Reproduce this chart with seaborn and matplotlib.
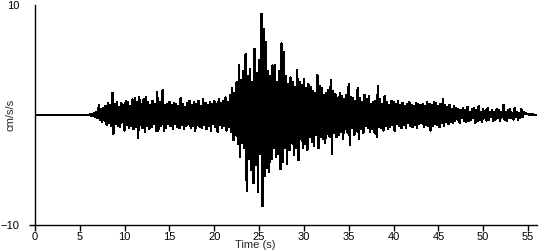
import numpy as np
import pandas as pd
import matplotlib
matplotlib.use("Agg")
import matplotlib.pyplot as plt
import seaborn as sns

# Sampling of the record (seconds)
t_start = 6.0
dt = 0.125

# Acceleration (cm/s/s), 8 samples per second, from 6 s to 56 s
accel = [
    0.0, 0.05, -0.05, 0.1, -0.1, 0.2, -0.15, 0.3,
    -0.3, 0.9, -0.4, 0.5, -0.6, 0.6, -0.5, 0.8,
    -0.9, 1.1, -0.7, 0.9, -1.0, 2.0, -1.7, 1.0,
    -0.8, 1.2, -1.0, 0.7, -1.1, 1.1, -0.6, 0.9,
    -1.4, 1.3, -0.9, 1.2, -1.2, 0.8, -1.0, 1.4,
    -1.3, 1.5, -1.1, 1.2, -2.1, 1.6, -0.9, 1.0,
    -1.2, 1.4, -1.5, 1.6, -1.0, 1.2, -1.3, 0.9,
    -1.1, 1.3, -0.8, 1.0, -1.4, 2.1, -1.4, 1.2,
    -1.0, 1.1, 2.3, -1.4, 0.9, -1.2, 1.0, -0.8,
    1.2, -1.0, 0.9, -1.3, 1.1, -0.8, 1.0, -1.1,
    0.8, -1.2, 1.5, -0.9, 1.0, -1.3, 0.7, -1.0,
    1.1, -0.8, 1.3, -1.2, 0.9, -1.0, 1.2, -1.4,
    1.0, -0.9, 1.3, -1.1, 0.8, -1.2, 1.4, -0.9,
    1.1, -1.3, 0.9, -1.0, 1.2, -1.4, 1.0, -0.8,
    1.3, -1.1, 1.0, -1.5, 1.4, -0.9, 1.1, -1.2,
    1.3, -1.0, 1.6, -1.4, 1.2, -1.1, 1.8, -1.5,
    2.4, -2.3, 2.0, -1.8, 3.0, -2.6, 4.5, -3.8,
    3.2, -2.5, 4.0, -3.0, 5.5, -6.9, 3.5, -4.0,
    4.2, -5.0, 3.0, -6.2, 6.0, -4.5, 3.8, -7.0,
    5.0, -3.5, 9.2, -8.3, 7.8, -5.5, 6.6, -4.8,
    4.0, -5.2, 3.5, -4.0, 4.5, -3.0, 4.5, -3.8,
    3.0, -3.5, 4.0, -4.9, 6.5, -4.3, 5.7, -3.0,
    3.5, -4.4, 2.8, -3.2, 3.4, -2.5, 3.0, -3.6,
    2.5, -3.0, 4.1, -4.1, 3.0, -2.2, 2.7, -3.0,
    3.3, -2.6, 2.4, -3.2, 2.8, -2.0, 2.5, -2.4,
    2.2, -2.8, 2.0, -1.8, 3.6, -3.0, 2.6, -2.0,
    2.4, -2.2, 1.8, -2.5, 2.0, -1.7, 2.3, -2.0,
    3.2, -3.5, 2.2, -1.6, 1.9, -2.0, 1.5, -1.8,
    2.0, -1.5, 1.7, -2.2, 1.4, -1.3, 1.8, -1.6,
    2.8, -2.7, 1.6, -1.2, 1.5, -1.8, 1.3, -1.4,
    2.4, -2.2, 1.5, -1.3, 1.2, -1.6, 1.8, -1.0,
    1.4, -1.2, 1.7, -1.5, 1.0, -1.3, 1.2, -1.6,
    1.3, -2.0, 2.6, -1.1, 1.4, -1.2, 1.0, -1.4,
    1.7, -1.0, 1.2, -1.3, 0.9, -1.1, 1.3, -0.9,
    1.2, -1.4, 1.0, -0.8, 1.3, -1.0, 0.9, -1.2,
    1.1, -0.9, 0.8, -1.2, 1.0, -0.7, 1.2, -1.0,
    0.9, -1.1, 0.8, -0.9, 1.1, -1.2, 1.0, -0.8,
    0.9, -0.7, 1.0, -1.1, 0.8, -0.9, 1.2, -1.0,
    1.0, -1.4, 0.9, -1.0, 1.2, -0.8, 1.1, -0.9,
    0.8, -1.1, 1.0, -0.7, 1.4, -1.0, 0.9, -0.6,
    0.7, -0.8, 0.9, -0.6, 0.5, -0.7, 0.8, -0.5,
    0.6, -0.4, 0.5, -0.7, 0.4, -0.3, 0.6, -0.5,
    0.4, -0.6, 0.7, -0.5, 0.3, -0.4, 0.5, -0.3,
    0.6, -0.7, 0.4, -0.5, 0.8, -0.4, 0.3, -0.6,
    0.5, -0.3, 0.4, -0.5, 0.6, -0.4, 0.3, -0.2,
    0.4, -0.5, 0.3, -0.4, 0.5, -0.3, 0.4, -0.5,
    0.3, -0.2, 0.9, -0.4, 0.3, -0.5, 0.4, -0.3,
    0.5, -0.3, 0.2, -0.4, 0.6, -0.2, 0.3, -0.4,
    0.2, -0.3, 0.5, -0.2, 0.3, 0.1, 0.2, 0.1,
    0.1, 0.05, 0.1, 0.0, 0.05, 0.0, 0.0, 0.0,
]

# Quiet lead-in before the record starts
lead_time = [0.0]
lead_accel = [0.0]

x_ticks = [0, 5, 10, 15, 20, 25, 30, 35, 40, 45, 50, 55]
y_ticks = [-10, 10]

time = lead_time + list(t_start + dt * np.arange(len(accel)))
values = lead_accel + accel
df = pd.DataFrame({"Time (s)": time, "cm/s/s": values})

sns.set_style("ticks")
plt.rcParams["font.family"] = ["Liberation Sans", "DejaVu Sans"]
plt.rcParams["font.size"] = 8

fig = plt.figure(figsize=(5.5, 2.5), dpi=100)
ax = fig.add_axes([35 / 550, 25 / 250, 502 / 550, 220 / 250])

sns.lineplot(data=df, x="Time (s)", y="cm/s/s", ax=ax, color="black",
             linewidth=1.0, estimator=None, sort=False, antialiased=False)

ax.set_xlim(0, 56)
ax.set_ylim(-10, 10)
ax.set_xticks(x_ticks)
ax.set_yticks(y_ticks)
ax.tick_params(axis="both", direction="out", length=4, width=1,
               labelsize=8, colors="black", pad=1)
ax.tick_params(axis="y", pad=7)
ax.yaxis.get_major_ticks()[1].tick1line.set_visible(False)

for side in ("top", "right"):
    ax.spines[side].set_visible(False)
for side in ("left", "bottom"):
    ax.spines[side].set_linewidth(1)
    ax.spines[side].set_color("black")

ax.set_xlabel("Time (s)", fontsize=8, labelpad=0)
ax.xaxis.set_label_coords(220 / 502, -0.07)
ax.set_ylabel("cm/s/s", fontsize=8, labelpad=2)
ax.yaxis.set_label_coords(-19 / 502, 0.5)

fig.savefig("out.png", dpi=100)
